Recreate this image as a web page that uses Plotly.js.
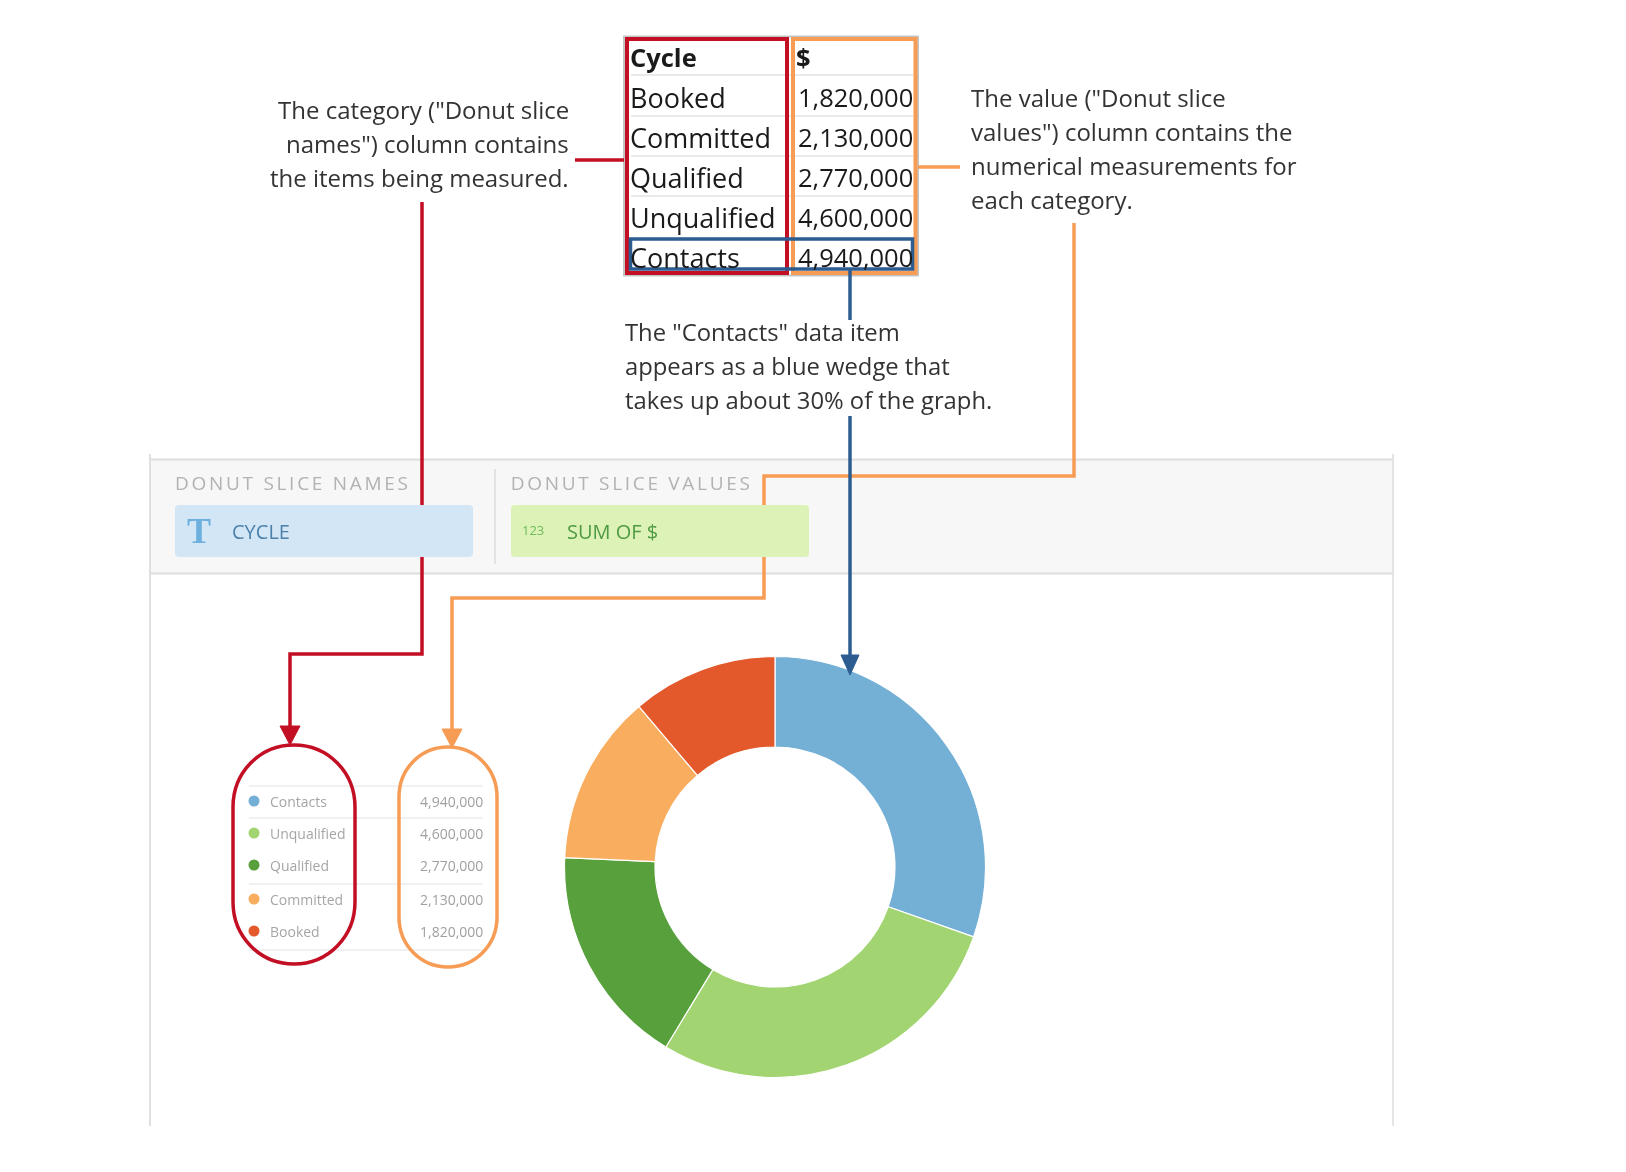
<!DOCTYPE html>
<html>
<head>
<meta charset="utf-8">
<script src="https://cdn.plot.ly/plotly-3.0.1.min.js"></script>
<style>html,body{margin:0;padding:0;background:#fff}#c{width:1626px;height:1172px;filter:blur(0.55px)}</style>
</head>
<body>
<div id="c"></div>
<script>
// ---- data ----
const categories = ["Contacts", "Unqualified", "Qualified", "Committed", "Booked"];
const values = [4940000, 4600000, 2770000, 2130000, 1820000];
const sliceColors = ["#74afd6", "#a2d572", "#57a03b", "#f9ad5e", "#e3592b"];
const tableHeader = ["Cycle", "$"];
const tableCategories = ["Booked", "Committed", "Qualified", "Unqualified", "Contacts"];
const tableValues = ["1,820,000", "2,130,000", "2,770,000", "4,600,000", "4,940,000"];
const leftNote = ['The category ("Donut slice', 'names") column contains', 'the items being measured.'];
const rightNote = ['The value ("Donut slice', 'values") column contains the', 'numerical measurements for', 'each category.'];
const midNote = ['The "Contacts" data item', 'appears as a blue wedge that', 'takes up about 30% of the graph.'];

// ---- layout constants ----
const RED = "#c30f24", ORANGE = "#f79c55", NAVY = "#2d5c90";
const FONT = '"Open Sans", sans-serif';
const legendRows = [801, 833, 865, 899, 931];
const tableRows = [57, 97, 137, 177, 217, 257];

const rect = (x0, y0, x1, y1, fill, line, w) => ({type: "rect", xref: "x", yref: "y", x0, y0, x1, y1,
  fillcolor: fill || "rgba(0,0,0,0)", line: {color: line || "rgba(0,0,0,0)", width: line ? (w || 1) : 0}, layer: "above"});
const seg = (pts, color, w) => ({type: "path", xref: "x", yref: "y", layer: "above",
  path: "M" + pts.map(p => p[0] + "," + p[1]).join(" L"), line: {color, width: w || 3}, fillcolor: "rgba(0,0,0,0)"});
const tri = (x, y0, y1, hw, color) => ({type: "path", xref: "x", yref: "y", layer: "above",
  path: `M${x - hw},${y0} L${x + hw},${y0} L${x},${y1} Z`, fillcolor: color, line: {color, width: 1}});
const rounded = (x0, y0, x1, y1, r, fill) => ({type: "path", xref: "x", yref: "y", layer: "above",
  fillcolor: fill, line: {color: "rgba(0,0,0,0)", width: 0},
  path: `M${x0 + r},${y0} L${x1 - r},${y0} Q${x1},${y0} ${x1},${y0 + r} L${x1},${y1 - r} Q${x1},${y1} ${x1 - r},${y1} ` +
        `L${x0 + r},${y1} Q${x0},${y1} ${x0},${y1 - r} L${x0},${y0 + r} Q${x0},${y0} ${x0 + r},${y0} Z`});
function pill(x0, y0, x1, y1, color) {
  const r = (x1 - x0) / 2, k = r * 0.56, ry = r * 1.02, ky = ry * 0.56;
  return {type: "path", xref: "x", yref: "y", layer: "above", line: {color, width: 3.5}, fillcolor: "rgba(0,0,0,0)",
    path: `M${x0},${y0 + ry} C${x0},${y0 + ry - ky} ${x0 + r - k},${y0} ${x0 + r},${y0} ` +
          `C${x1 - r + k},${y0} ${x1},${y0 + ry - ky} ${x1},${y0 + ry} L${x1},${y1 - ry} ` +
          `C${x1},${y1 - ry + ky} ${x1 - r + k},${y1} ${x0 + r},${y1} ` +
          `C${x0 + r - k},${y1} ${x0},${y1 - ry + ky} ${x0},${y1 - ry} Z`};
}
const label = (text, x, y, size, color, anchor, extra) => Object.assign({
  text, x, y, xref: "x", yref: "y", showarrow: false, xanchor: anchor || "left", yanchor: "middle",
  font: {family: FONT, size, color}, borderpad: 0, borderwidth: 0}, extra || {});

const shapes = [
  // panel
  rect(150, 459, 1393, 573, "#f7f7f7"),
  seg([[150, 454], [150, 1126]], "#d6d6d6", 1.5),
  seg([[1393, 454], [1393, 1126]], "#dcdcdc", 1.5),
  seg([[150, 459.5], [1393, 459.5]], "#dedede", 2),
  seg([[150, 573.5], [1393, 573.5]], "#dedede", 2),
  seg([[495, 469], [495, 564]], "#dddddd", 1.5),
  // red & orange connectors behind the pills
  seg([[422, 202], [422, 654], [290, 654], [290, 728]], RED, 3.5),
  seg([[1074, 223], [1074, 476], [764, 476], [764, 598], [452, 598], [452, 731]], ORANGE, 3.5),
  // field pills
  rounded(175, 505, 473, 557, 4, "#d3e6f5"),
  rounded(511, 505, 809, 557, 4, "#ddf2b6"),
  // table
  rect(624, 36.5, 918, 275.5, "#ffffff", "#c4c4c4", 2),
];
[75, 116, 156, 196].forEach(y => shapes.push(seg([[631, y], [913, y]], "#e2e2e2", 1.5)));
shapes.push(
  seg([[575, 160], [624, 160]], RED, 3.5),
  seg([[918, 167], [960, 167]], ORANGE, 3.5),
  rect(793, 39, 915.5, 273, null, ORANGE, 4),
  rect(627, 39, 787, 273, null, RED, 4),
  rect(630.5, 239, 912.5, 269, null, NAVY, 3.5),
  seg([[850, 269], [850, 320]], NAVY, 3.5),
  seg([[850, 416], [850, 658]], NAVY, 3.5),
  tri(850, 655, 675, 9, NAVY),
  tri(290, 726, 745, 10, RED),
  tri(452, 729, 748, 10, ORANGE)
);
[786, 818, 884, 950].forEach(y => shapes.push(seg([[249, y], [483, y]], "#e4e4e4", 1.2)));
shapes.push(pill(233, 745, 355, 964, RED), pill(399, 747, 497, 967, ORANGE));

const annotations = [];
leftNote.forEach((t, i) => annotations.push(label(t, 569, [109, 143, 177][i], 24, "#333333", "right")));
rightNote.forEach((t, i) => annotations.push(label(t, 971, [97, 131, 165, 199][i], 24, "#333333")));
midNote.forEach((t, i) => annotations.push(label(t, 625, [332, 366, 400][i], 23.8, "#333333")));
tableHeader.forEach((t, i) => annotations.push(label("<b>" + t + "</b>", [630, 796][i], tableRows[0], 25.5, "#1a1a1a")));
tableCategories.forEach((t, i) => annotations.push(label(t, 630, tableRows[i + 1], 27, "#1a1a1a")));
tableValues.forEach((t, i) => annotations.push(label(t, 913, tableRows[i + 1], 25.5, "#1a1a1a", "right")));
annotations.push(
  label("DONUT SLICE NAMES", 292.5, 483, 19, "#b2b2b2", "center"),
  label("DONUT SLICE VALUES", 631.5, 483, 19, "#b2b2b2", "center"),
  label("T", 199, 531, 34, "#6db0dd", "center", {font: {family: '"Liberation Serif", serif', size: 36, weight: 700, color: "#6db0dd"}}),
  label("CYCLE", 232, 531, 20, "#4b80ab"),
  label("123", 522, 530, 13, "#6dbb5a"),
  label("SUM OF $", 567, 531, 20, "#4f9a44")
);
categories.forEach((c, i) => {
  annotations.push(label(c, 270, legendRows[i], 14, "#a6a6a6"));
  annotations.push(label(values[i].toLocaleString("en-US"), 483, legendRows[i], 14, "#a0a0a0", "right"));
});

const W = 1626, H = 1172, cx = 775, cy = 867, R = 210.5;
const data = [
  {type: "pie", labels: categories, values, sort: false, direction: "clockwise", rotation: 0, hole: 0.57,
   textinfo: "none", hoverinfo: "label+value", showlegend: false,
   marker: {colors: sliceColors, line: {color: "#ffffff", width: 1.2}},
   domain: {x: [(cx - R) / W, (cx + R) / W], y: [1 - (cy + R) / H, 1 - (cy - R) / H]}},
  {type: "scatter", mode: "markers", x: categories.map(() => 254), y: legendRows, showlegend: false,
   hoverinfo: "skip", marker: {size: 11, color: sliceColors}}
];
const layout = {
  width: W, height: H, margin: {l: 0, r: 0, t: 0, b: 0}, showlegend: false,
  paper_bgcolor: "#ffffff", plot_bgcolor: "rgba(0,0,0,0)",
  xaxis: {range: [0, W], visible: false, fixedrange: true},
  yaxis: {range: [H, 0], visible: false, fixedrange: true},
  shapes, annotations
};
Plotly.newPlot("c", data, layout, {displayModeBar: false, staticPlot: true}).then(() => {
  document.querySelectorAll("#c .annotation-text").forEach(t => {
    if (t.textContent.startsWith("DONUT SLICE")) t.style.letterSpacing = "2.7px";
  });
});
</script>
</body>
</html>
